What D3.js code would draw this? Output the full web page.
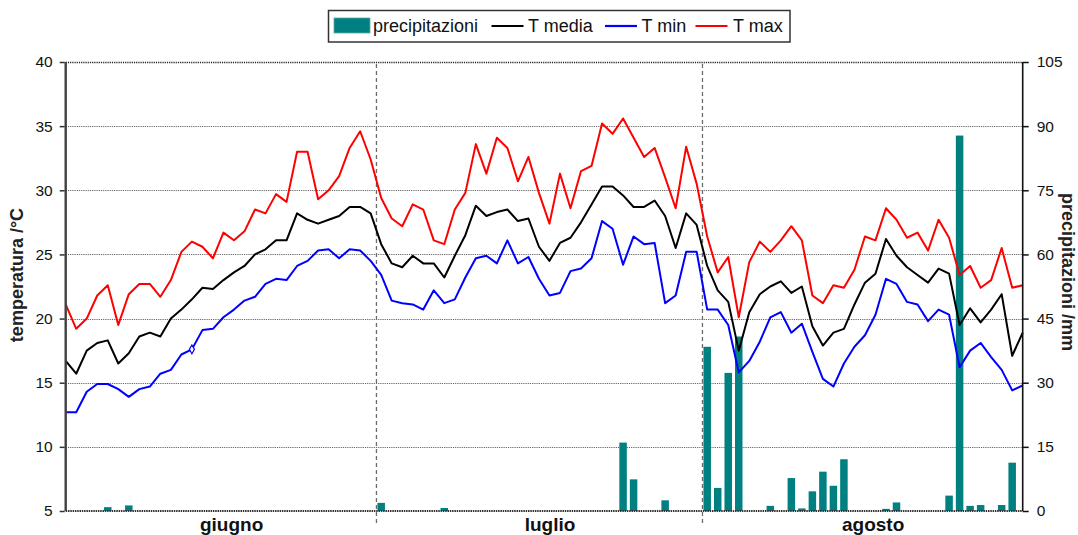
<!DOCTYPE html>
<html>
<head>
<meta charset="utf-8">
<script src="https://cdn.jsdelivr.net/npm/d3@7"></script>
<style>
  html, body { margin: 0; padding: 0; background: #fff; }
  svg { display: block; font-family: "Liberation Sans", Arial, sans-serif; }
</style>
</head>
<body>
<svg id="chart" width="1078" height="535"></svg>
<script>
// Daily weather summary, 1 June – 31 August (92 days)
const months = ["giugno", "luglio", "agosto"];
const monthStart = [0, 30, 61];        // day index of the first day of each month
const dayCount = 92;

const tMedia = [
  16.7, 15.7, 17.5, 18.1, 18.3, 16.5, 17.3, 18.6, 18.9, 18.6,
  20.0, 20.7, 21.5, 22.4, 22.3, 23.0, 23.6, 24.1, 25.0, 25.4,
  26.1, 26.1, 28.2, 27.7, 27.4, 27.7, 28.0, 28.7, 28.7, 28.2,
  25.8, 24.3, 24.0, 24.9, 24.3, 24.3, 23.2, 24.9, 26.5, 28.8,
  28.0, 28.3, 28.5, 27.6, 27.8, 25.6, 24.5, 25.9, 26.3, 27.5,
  28.9, 30.3, 30.3, 29.6, 28.7, 28.7, 29.2, 28.0, 25.5, 28.2,
  27.3, 24.1, 22.2, 21.3, 17.5, 20.5, 21.9, 22.5, 22.9, 22.0,
  22.5, 19.4, 17.9, 18.9, 19.2, 21.1, 22.8, 23.5, 26.2, 24.9,
  24.0, 23.4, 22.8, 23.9, 23.5, 19.5, 20.8, 19.7, 20.7, 21.9,
  17.1, 18.9
];

const tMin = [
  12.7, 12.7, 14.3, 14.9, 14.9, 14.5, 13.9, 14.5, 14.7, 15.7,
  16.0, 17.2, 17.6, 19.1, 19.2, 20.1, 20.7, 21.4, 21.7, 22.7,
  23.1, 23.0, 24.1, 24.5, 25.3, 25.4, 24.7, 25.4, 25.3, 24.5,
  23.4, 21.4, 21.2, 21.1, 20.7, 22.2, 21.2, 21.5, 23.2, 24.7,
  24.9, 24.3, 26.1, 24.3, 24.8, 23.1, 21.8, 22.0, 23.7, 23.9,
  24.7, 27.6, 27.0, 24.2, 26.4, 25.8, 25.9, 21.2, 21.8, 25.2,
  25.2, 20.7, 20.7, 19.5, 15.8, 16.7, 18.2, 20.1, 20.5, 18.9,
  19.6, 17.4, 15.3, 14.7, 16.5, 17.8, 18.7, 20.3, 23.1, 22.7,
  21.3, 21.1, 19.8, 20.7, 20.3, 16.2, 17.5, 18.1, 17.0, 16.0,
  14.4, 14.8
];

const tMax = [
  21.1, 19.2, 20.0, 21.8, 22.6, 19.5, 21.9, 22.7, 22.7, 21.7,
  23.0, 25.2, 26.0, 25.6, 24.7, 26.7, 26.1, 26.8, 28.5, 28.2,
  29.7, 29.1, 33.0, 33.0, 29.3, 30.0, 31.1, 33.3, 34.6, 32.4,
  29.4, 27.8, 27.2, 28.9, 28.5, 26.1, 25.8, 28.5, 29.8, 33.6,
  31.3, 34.1, 33.3, 30.7, 32.6, 29.8, 27.4, 31.3, 28.6, 31.5,
  31.9, 35.2, 34.4, 35.6, 34.1, 32.6, 33.3, 31.0, 28.6, 33.4,
  30.5, 26.4, 23.6, 24.8, 20.1, 24.4, 26.0, 25.2, 26.1, 27.2,
  26.1, 21.8, 21.2, 22.6, 22.4, 23.8, 26.4, 26.1, 28.6, 27.7,
  26.3, 26.7, 25.3, 27.7, 26.3, 23.4, 24.1, 22.4, 23.0, 25.5,
  22.4, 22.6
];

// Rain by day index (mm); days not listed had none
const rainDays = [4, 6, 30, 36, 53, 54, 57, 61, 62, 63, 64, 67, 69, 70, 71, 72, 73, 74, 78, 79, 84, 85, 86, 87, 89, 90];
const rainMm   = [0.9, 1.3, 1.9, 0.7, 16.0, 7.4, 2.5, 38.4, 5.4, 32.3, 40.8, 1.2, 7.7, 0.6, 4.6, 9.2, 5.9, 12.1, 0.5, 2.0, 3.6, 87.8, 1.2, 1.4, 1.4, 11.3];

const tempTicks = [5, 10, 15, 20, 25, 30, 35, 40];
const rainTicks = [0, 15, 30, 45, 60, 75, 90, 105];

const seriesInfo = [
  { name: "T media", values: tMedia, color: "#000000" },
  { name: "T min",   values: tMin,   color: "#0000ff" },
  { name: "T max",   values: tMax,   color: "#ff0000" }
];
const barColor = "#008080";

// ---- layout ----
const svg = d3.select("#chart");
const plotLeft = 65.7, plotRight = 1022.7, plotTop = 62, plotBottom = 511;

const x = d3.scaleLinear().domain([0, dayCount - 1]).range([plotLeft, plotRight]);
const yT = d3.scaleLinear().domain([5, 40]).range([plotBottom, plotTop]);
const yP = d3.scaleLinear().domain([0, 105]).range([plotBottom, plotTop]);
const step = x(1) - x(0);

// horizontal dotted grid
svg.append("g").selectAll("line").data(tempTicks.filter(t => t > 5)).join("line")
  .attr("x1", plotLeft).attr("x2", plotRight)
  .attr("y1", d => Math.round(yT(d)) + 0.5).attr("y2", d => Math.round(yT(d)) + 0.5)
  .attr("stroke", d => d === 40 ? "#222" : "#666")
  .attr("stroke-width", d => d === 40 ? 1.5 : 1)
  .attr("stroke-dasharray", "1.2,1");

// month separators
const dividerPos = monthStart.slice(1).map(s => x(s - 0.45));
svg.append("g").selectAll("line").data(dividerPos).join("line")
  .attr("x1", d => d).attr("x2", d => d)
  .attr("y1", plotTop + 2).attr("y2", plotBottom + 12)
  .attr("stroke", "#6b6b6b").attr("stroke-width", 1.3)
  .attr("stroke-dasharray", "4,3");

// precipitation bars
const rain = rainDays.map((d, i) => ({ day: d, mm: rainMm[i] }));
const barW = 7.5;
svg.append("g").selectAll("rect").data(rain).join("rect")
  .attr("x", d => x(d.day) - barW / 2)
  .attr("width", barW)
  .attr("y", d => yP(d.mm))
  .attr("height", d => plotBottom - yP(d.mm))
  .attr("fill", barColor);

// temperature lines
const line = d3.line().x((d, i) => x(i)).y(d => yT(d));
svg.append("g").selectAll("path").data(seriesInfo).join("path")
  .attr("d", s => line(s.values))
  .attr("fill", "none")
  .attr("stroke", s => s.color)
  .attr("stroke-width", 2)
  .attr("stroke-linejoin", "round");

// single highlighted point on the minimum series
svg.append("path")
  .attr("d", d3.symbol(d3.symbolDiamond, 22)())
  .attr("transform", `translate(${x(12)},${yT(tMin[12])})`)
  .attr("fill", "#fff").attr("stroke", "#0000ff").attr("stroke-width", 1.2);

// axes frame
svg.append("line").attr("x1", plotLeft).attr("x2", plotLeft).attr("y1", plotTop).attr("y2", plotBottom)
  .attr("stroke", "#404040").attr("stroke-width", 2.4);
svg.append("line").attr("x1", plotRight).attr("x2", plotRight).attr("y1", plotTop).attr("y2", plotBottom)
  .attr("stroke", "#111").attr("stroke-width", 1.6);
svg.append("line").attr("x1", plotLeft).attr("x2", plotRight).attr("y1", plotBottom).attr("y2", plotBottom)
  .attr("stroke", "#333").attr("stroke-width", 2).attr("stroke-dasharray", "1.5,0.8");

// left axis (temperature)
const axL = d3.axisLeft(yT).tickValues(tempTicks).tickSize(5).tickPadding(7);
const gL = svg.append("g").attr("transform", `translate(${plotLeft - 1},0)`).call(axL);
gL.select(".domain").remove();
gL.selectAll(".tick line").attr("stroke", "#333").attr("stroke-width", 1.5);
gL.selectAll(".tick text").attr("font-size", 15.5).attr("fill", "#111")
  .attr("font-family", "'Liberation Sans', Arial, sans-serif");

// right axis (precipitation)
const axR = d3.axisRight(yP).tickValues(rainTicks).tickSize(6).tickPadding(8);
const gR = svg.append("g").attr("transform", `translate(${plotRight},0)`).call(axR);
gR.select(".domain").remove();
gR.selectAll(".tick line").attr("stroke", "#111").attr("stroke-width", 1.5);
gR.selectAll(".tick text").attr("font-size", 15.5).attr("fill", "#111")
  .attr("font-family", "'Liberation Sans', Arial, sans-serif");

// month labels, centred within each month's span
const edges = [plotLeft, ...dividerPos, plotRight];
svg.append("g").selectAll("text").data(months).join("text")
  .attr("x", (d, i) => (edges[i] + edges[i + 1]) / 2 + step)
  .attr("y", 530.5)
  .attr("text-anchor", "middle")
  .attr("font-size", 19).attr("font-weight", "bold").attr("fill", "#111")
  .text(d => d);

// axis titles
svg.append("text")
  .attr("transform", "translate(23,275) rotate(-90)")
  .attr("text-anchor", "middle")
  .attr("font-size", 18).attr("font-weight", "bold").attr("fill", "#222")
  .text("temperatura /°C");
svg.append("text")
  .attr("transform", "translate(1062,272) rotate(90)")
  .attr("text-anchor", "middle")
  .attr("font-size", 18).attr("font-weight", "bold").attr("fill", "#222")
  .text("precipitazioni /mm");

// legend
const lg = svg.append("g");
lg.append("rect").attr("x", 328.5).attr("y", 10.5).attr("width", 461.5).attr("height", 31.5)
  .attr("fill", "#fff").attr("stroke", "#333").attr("stroke-width", 1.5);
lg.append("rect").attr("x", 334).attr("y", 18).attr("width", 36).attr("height", 15)
  .attr("fill", barColor).attr("stroke", "#5aa8a8").attr("stroke-width", 0.8);
lg.append("text").attr("x", 373).attr("y", 31.5).attr("font-size", 18).attr("fill", "#111")
  .text("precipitazioni");
const legendLines = [
  { s: seriesInfo[0], x0: 491.5, tx: 528 },
  { s: seriesInfo[1], x0: 605, tx: 641.5 },
  { s: seriesInfo[2], x0: 695.5, tx: 733 }
];
legendLines.forEach(d => {
  lg.append("line").attr("x1", d.x0).attr("x2", d.x0 + 32).attr("y1", 26).attr("y2", 26)
    .attr("stroke", d.s.color).attr("stroke-width", 2.2);
  lg.append("text").attr("x", d.tx).attr("y", 31.5).attr("font-size", 18).attr("fill", "#111")
    .text(d.s.name);
});
</script>
</body>
</html>
